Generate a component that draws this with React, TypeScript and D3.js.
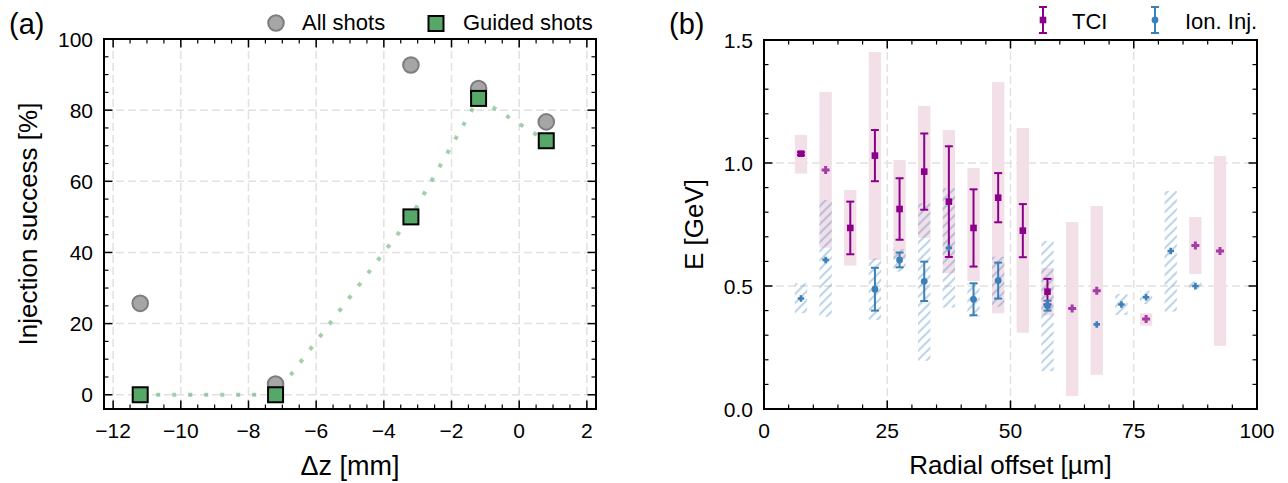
import React from "react";
import * as d3 from "d3";

// ---------- panel (a): injection success vs. focus position ----------
const dzValues = [-11.2, -7.2, -3.2, -1.2, 0.8];
const allShots = [25.7, 3.0, 92.7, 86.1, 76.7];
const guidedShots = [0, 0, 50, 83.3, 71.4];
const aXTicks = [-12, -10, -8, -6, -4, -2, 0, 2];
const aYTicks = [0, 20, 40, 60, 80, 100];

// ---------- panel (b): energy vs. radial offset ----------
const offsetBins = [7.5, 12.5, 17.5, 22.5, 27.5, 32.5, 37.5, 42.5, 47.5, 52.5, 57.5, 62.5, 67.5, 72.5, 77.5, 82.5, 87.5, 92.5];
const tciMean = [1.038, 0.972, 0.736, 1.03, 0.813, 0.965, 0.843, 0.736, 0.859, 0.725, 0.477, 0.409, 0.481, null, 0.366, null, 0.665, 0.642];
const tciErr = [0.006, null, 0.107, 0.104, 0.125, 0.155, 0.225, 0.157, 0.1, 0.108, 0.052, null, null, null, null, null, null, null];
const tciLow = [0.957, 0.656, 0.583, 0.606, 0.609, 0.696, 0.552, 0.52, 0.389, 0.31, 0.381, 0.053, 0.139, null, 0.339, null, 0.549, 0.257];
const tciHigh = [1.114, 1.289, 0.89, 1.451, 1.012, 1.232, 1.134, 0.98, 1.329, 1.142, 0.573, 0.76, 0.825, null, 0.389, null, 0.78, 1.028];
const ionMean = [0.449, 0.606, null, 0.487, 0.606, 0.519, 0.655, 0.446, 0.522, null, 0.42, null, 0.344, 0.425, 0.454, 0.642, 0.5, null];
const ionErr = [null, null, null, 0.087, 0.03, 0.08, null, 0.065, 0.073, null, 0.02, null, null, null, null, null, null, null];
const ionLow = [0.389, 0.375, null, 0.362, 0.558, 0.196, 0.412, 0.375, 0.416, null, 0.154, null, null, 0.382, 0.427, 0.396, 0.484, null];
const ionHigh = [0.511, 0.85, null, 0.612, 0.65, 0.836, 0.897, 0.511, 0.619, null, 0.683, null, null, 0.467, 0.48, 0.886, 0.518, null];
const bXTicks = [0, 25, 50, 75, 100];
const bYTicks = [0, 0.5, 1.0, 1.5];
const binWidth = 2.5;

const FONT = "'Liberation Sans', Arial, sans-serif";
const TCI_COLOR = "#8b008b";
const TCI_LIGHT = "#a63ca6";
const ION_COLOR = "#3b80b9";
const GREY_FILL = "#a6a6a6";
const GREY_EDGE = "#7d7d7d";
const GREEN = "#55a868";

const fmtTick = (v: number, digits = 0) => {
  const s = Math.abs(v).toFixed(digits);
  return v < 0 ? "\u2212" + s : s;
};

function plusPath(cx: number, cy: number, s: number, t: number) {
  const a = s / 2;
  const b = t / 2;
  return `M${cx - b},${cy - a}H${cx + b}V${cy - b}H${cx + a}V${cy + b}H${cx + b}V${cy + a}H${cx - b}V${cy + b}H${cx - a}V${cy - b}H${cx - b}Z`;
}

type Frame = { x0: number; x1: number; y0: number; y1: number };

function Ticks({ f, xs, xMinor, ys, yMinor, xScale, yScale }: any) {
  const els: any[] = [];
  const major = 8.5;
  const minor = 4.5;
  xs.forEach((v: number, i: number) => {
    const x = xScale(v);
    els.push(<line key={"xb" + i} x1={x} x2={x} y1={f.y1} y2={f.y1 - major} stroke="#000" strokeWidth={1.5} />);
    els.push(<line key={"xt" + i} x1={x} x2={x} y1={f.y0} y2={f.y0 + major} stroke="#000" strokeWidth={1.5} />);
  });
  xMinor.forEach((v: number, i: number) => {
    const x = xScale(v);
    els.push(<line key={"xmb" + i} x1={x} x2={x} y1={f.y1} y2={f.y1 - minor} stroke="#000" strokeWidth={1.2} />);
    els.push(<line key={"xmt" + i} x1={x} x2={x} y1={f.y0} y2={f.y0 + minor} stroke="#000" strokeWidth={1.2} />);
  });
  ys.forEach((v: number, i: number) => {
    const y = yScale(v);
    els.push(<line key={"yl" + i} x1={f.x0} x2={f.x0 + major} y1={y} y2={y} stroke="#000" strokeWidth={1.5} />);
    els.push(<line key={"yr" + i} x1={f.x1} x2={f.x1 - major} y1={y} y2={y} stroke="#000" strokeWidth={1.5} />);
  });
  yMinor.forEach((v: number, i: number) => {
    const y = yScale(v);
    els.push(<line key={"yml" + i} x1={f.x0} x2={f.x0 + minor} y1={y} y2={y} stroke="#000" strokeWidth={1.2} />);
    els.push(<line key={"ymr" + i} x1={f.x1} x2={f.x1 - minor} y1={y} y2={y} stroke="#000" strokeWidth={1.2} />);
  });
  return <g>{els}</g>;
}

function ErrorBar({ x, y0, y1, color, cap = 8, width = 2 }: any) {
  return (
    <g stroke={color} strokeWidth={width}>
      <line x1={x} x2={x} y1={y0} y2={y1} />
      <line x1={x - cap / 2} x2={x + cap / 2} y1={y0} y2={y0} />
      <line x1={x - cap / 2} x2={x + cap / 2} y1={y1} y2={y1} />
    </g>
  );
}

function PanelA() {
  const f: Frame = { x0: 104, x1: 596, y0: 39, y1: 409 };
  const x = d3.scaleLinear().domain([-12.27, 2.27]).range([f.x0, f.x1]);
  const y = d3.scaleLinear().domain([-4, 100]).range([f.y1, f.y0]);
  const xMinor = d3.range(-12, 2.01, 0.5).filter((v) => !aXTicks.includes(v));
  const yMinor = d3.range(0, 100.1, 5).filter((v) => !aYTicks.includes(v));
  const line = d3
    .line<number>()
    .x((_, i) => x(dzValues[i]))
    .y((d) => y(d));
  const sq = 15;
  return (
    <g>
      <defs>
        <clipPath id="clipA">
          <rect x={f.x0} y={f.y0} width={f.x1 - f.x0} height={f.y1 - f.y0} />
        </clipPath>
      </defs>
      {/* grid */}
      <g stroke="#e1e1e1" strokeWidth={1.5} strokeDasharray="8,4">
        {aXTicks.map((v) => (
          <line key={"gx" + v} x1={x(v)} x2={x(v)} y1={f.y0} y2={f.y1} />
        ))}
        {aYTicks.map((v) => (
          <line key={"gy" + v} x1={f.x0} x2={f.x1} y1={y(v)} y2={y(v)} />
        ))}
      </g>
      <g clipPath="url(#clipA)">
        <path d={line(guidedShots) || ""} fill="none" stroke={GREEN} strokeOpacity={0.55} strokeWidth={4} strokeDasharray="4,12" />
        {allShots.map((v, i) => (
          <circle key={"c" + i} cx={x(dzValues[i])} cy={y(v)} r={7.8} fill={GREY_FILL} stroke={GREY_EDGE} strokeWidth={2} />
        ))}
        {guidedShots.map((v, i) => (
          <rect key={"s" + i} x={x(dzValues[i]) - sq / 2} y={y(v) - sq / 2} width={sq} height={sq} fill={GREEN} stroke="#000" strokeWidth={2} />
        ))}
      </g>
      <Ticks f={f} xs={aXTicks} xMinor={xMinor} ys={aYTicks} yMinor={yMinor} xScale={x} yScale={y} />
      <rect x={f.x0} y={f.y0} width={f.x1 - f.x0} height={f.y1 - f.y0} fill="none" stroke="#000" strokeWidth={2} />
      {/* tick labels */}
      <g fontFamily={FONT} fontSize={21} fill="#000">
        {aXTicks.map((v) => (
          <text key={"lx" + v} x={x(v)} y={438} textAnchor="middle">
            {fmtTick(v)}
          </text>
        ))}
        {aYTicks.map((v) => (
          <text key={"ly" + v} x={93} y={y(v) + 7.5} textAnchor="end">
            {fmtTick(v)}
          </text>
        ))}
      </g>
      <text x={(f.x0 + f.x1) / 2} y={475} textAnchor="middle" fontFamily={FONT} fontSize={27}>
        Δz [mm]
      </text>
      <text transform={`translate(37,${(f.y0 + f.y1) / 2}) rotate(-90)`} textAnchor="middle" fontFamily={FONT} fontSize={26}>
        Injection success [%]
      </text>
      <text x={9} y={34} fontFamily={FONT} fontSize={29}>
        (a)
      </text>
      {/* legend */}
      <circle cx={276} cy={23} r={7.8} fill={GREY_FILL} stroke={GREY_EDGE} strokeWidth={2} />
      <text x={302} y={30} fontFamily={FONT} fontSize={22}>
        All shots
      </text>
      <rect x={436 - sq / 2} y={23.5 - sq / 2} width={sq} height={sq} fill={GREEN} stroke="#000" strokeWidth={2} />
      <text x={463} y={30} fontFamily={FONT} fontSize={22}>
        Guided shots
      </text>
    </g>
  );
}

function PanelB() {
  const f: Frame = { x0: 764, x1: 1257, y0: 40, y1: 409 };
  const x = d3.scaleLinear().domain([0, 100]).range([f.x0, f.x1]);
  const y = d3.scaleLinear().domain([0, 1.5]).range([f.y1, f.y0]);
  const xMinor = d3.range(0, 100.1, 5).filter((v) => !bXTicks.includes(v));
  const yMinor = d3.range(0, 1.501, 0.1).map((v) => +v.toFixed(2)).filter((v) => !bYTicks.includes(v));
  const bw = x(binWidth) - x(0);
  return (
    <g>
      <defs>
        <pattern id="ionHatch" patternUnits="userSpaceOnUse" width={9} height={9}>
          <path d="M-2,2 L2,-2 M0,9 L9,0 M7,11 L11,7" stroke={ION_COLOR} strokeOpacity={0.32} strokeWidth={2.2} />
        </pattern>
      </defs>
      {/* grid */}
      <g stroke="#e1e1e1" strokeWidth={1.5} strokeDasharray="8,4">
        {[25, 50, 75].map((v) => (
          <line key={"gx" + v} x1={x(v)} x2={x(v)} y1={f.y0} y2={f.y1} />
        ))}
        {[0.5, 1.0].map((v) => (
          <line key={"gy" + v} x1={f.x0} x2={f.x1} y1={y(v)} y2={y(v)} />
        ))}
      </g>
      {/* TCI energy ranges */}
      {offsetBins.map((b, i) =>
        tciLow[i] == null ? null : (
          <rect key={"tr" + i} x={x(b) - bw / 2} y={y(tciHigh[i] as number)} width={bw} height={y(tciLow[i] as number) - y(tciHigh[i] as number)} fill="#f2dfe8" />
        )
      )}
      {/* ionization injection energy ranges */}
      {offsetBins.map((b, i) =>
        ionLow[i] == null ? null : (
          <rect key={"ir" + i} x={x(b) - bw / 2} y={y(ionHigh[i] as number)} width={bw} height={y(ionLow[i] as number) - y(ionHigh[i] as number)} fill="url(#ionHatch)" />
        )
      )}
      {/* TCI points */}
      {offsetBins.map((b, i) => {
        const m = tciMean[i];
        if (m == null) return null;
        const e = tciErr[i];
        if (e == null) return <path key={"tp" + i} d={plusPath(x(b), y(m), 8, 3)} fill={TCI_LIGHT} />;
        return (
          <g key={"tp" + i}>
            <ErrorBar x={x(b)} y0={y(m + e)} y1={y(m - e)} color={TCI_COLOR} />
            <rect x={x(b) - 3.3} y={y(m) - 3.3} width={6.6} height={6.6} fill={TCI_COLOR} />
          </g>
        );
      })}
      {/* ionization injection points */}
      {offsetBins.map((b, i) => {
        const m = ionMean[i];
        if (m == null) return null;
        const e = ionErr[i];
        if (e == null) return <path key={"ip" + i} d={plusPath(x(b), y(m), 6.5, 2.6)} fill={ION_COLOR} />;
        return (
          <g key={"ip" + i}>
            <ErrorBar x={x(b)} y0={y(m + e)} y1={y(m - e)} color={ION_COLOR} />
            <circle cx={x(b)} cy={y(m)} r={3.4} fill={ION_COLOR} />
          </g>
        );
      })}
      <Ticks f={f} xs={bXTicks} xMinor={xMinor} ys={bYTicks} yMinor={yMinor} xScale={x} yScale={y} />
      <rect x={f.x0} y={f.y0} width={f.x1 - f.x0} height={f.y1 - f.y0} fill="none" stroke="#000" strokeWidth={2} />
      <g fontFamily={FONT} fontSize={21} fill="#000">
        {bXTicks.map((v) => (
          <text key={"lx" + v} x={x(v)} y={438} textAnchor="middle">
            {fmtTick(v)}
          </text>
        ))}
        {bYTicks.map((v) => (
          <text key={"ly" + v} x={753} y={y(v) + 7.5} textAnchor="end">
            {fmtTick(v, 1)}
          </text>
        ))}
      </g>
      <text x={(f.x0 + f.x1) / 2} y={474} textAnchor="middle" fontFamily={FONT} fontSize={26}>
        Radial offset [µm]
      </text>
      <text transform={`translate(703,${(f.y0 + f.y1) / 2}) rotate(-90)`} textAnchor="middle" fontFamily={FONT} fontSize={26}>
        E [GeV]
      </text>
      <text x={669} y={34} fontFamily={FONT} fontSize={29}>
        (b)
      </text>
      {/* legend */}
      <ErrorBar x={1043} y0={7} y1={33} color={TCI_COLOR} />
      <rect x={1043 - 3.3} y={20 - 3.3} width={6.6} height={6.6} fill={TCI_COLOR} />
      <text x={1072} y={29} fontFamily={FONT} fontSize={22}>
        TCI
      </text>
      <ErrorBar x={1155} y0={7} y1={33} color={ION_COLOR} />
      <circle cx={1155} cy={20} r={3.4} fill={ION_COLOR} />
      <text x={1185} y={29} fontFamily={FONT} fontSize={22}>
        Ion. Inj.
      </text>
    </g>
  );
}

export default function App() {
  return (
    <svg
      width={1288}
      height={483}
      viewBox="0 0 1288 483"
      style={{ position: "absolute", left: 0, top: 0, background: "#fff" }}
    >
      <rect width={1288} height={483} fill="#fff" />
      <PanelA />
      <PanelB />
    </svg>
  );
}
